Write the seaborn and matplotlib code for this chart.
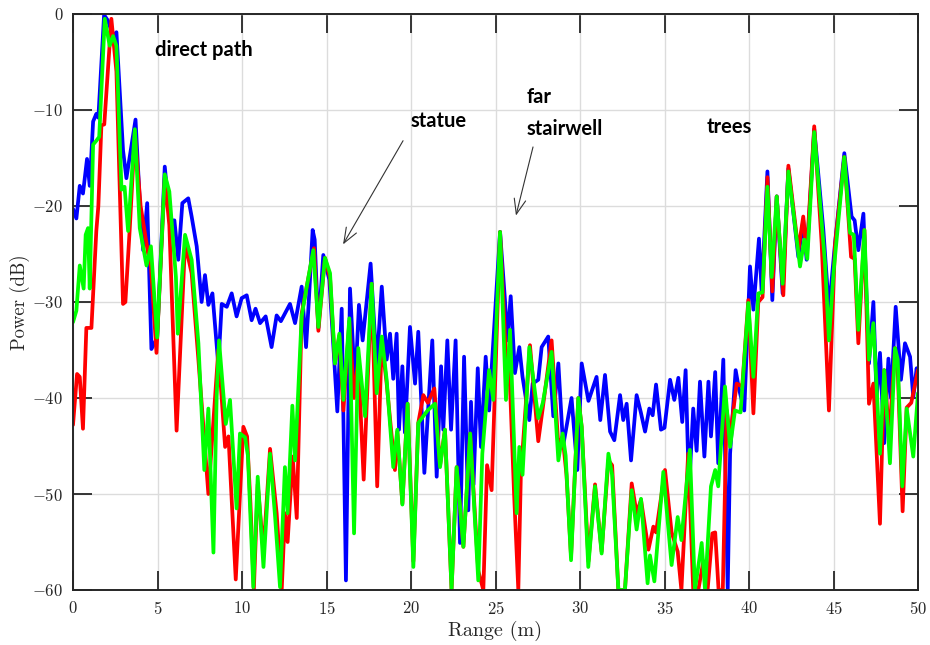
import numpy as np
import pandas as pd
import matplotlib
matplotlib.use("Agg")
import matplotlib.pyplot as plt
import seaborn as sns

# Range profile samples (m, dB) for the three measurement runs
blue_x = [0.0, 0.2, 0.4, 0.59, 0.83, 0.99, 1.19, 1.38, 1.5, 1.84, 2.07, 2.37, 2.57, 2.96, 3.16, 3.3, 3.7,
          3.95, 4.15, 4.39, 4.64, 4.98, 5.43, 5.73, 6.0, 6.23, 6.47, 6.82, 7.02, 7.32, 7.61, 7.81, 8.01,
          8.25, 8.6, 8.8, 9.1, 9.39, 9.68, 9.98, 10.28, 10.57, 10.8, 11.07, 11.4, 11.75, 12.05, 12.3,
          12.54, 12.84, 13.14, 13.53, 13.79, 13.95, 14.18, 14.3, 14.52, 14.81, 15.17, 15.64, 15.9, 16.15,
          16.39, 16.69, 16.92, 17.14, 17.61, 17.97, 18.27, 18.56, 18.76, 18.95, 19.15, 19.29, 19.49,
          19.64, 19.94, 20.24, 20.43, 20.79, 21.26, 21.52, 21.78, 21.91, 22.15, 22.37, 22.64, 22.9,
          23.14, 23.39, 23.55, 23.7, 23.95, 24.14, 24.42, 24.62, 25.27, 25.56, 25.7, 25.9, 26.15, 26.41,
          26.6, 27.0, 27.2, 27.53, 27.73, 28.12, 28.42, 28.72, 29.0, 29.5, 29.84, 30.1, 30.5, 30.98,
          31.2, 31.48, 31.78, 32.03, 32.37, 32.56, 32.76, 33.02, 33.35, 33.6, 33.85, 34.1, 34.3, 34.5,
          34.79, 35.0, 35.33, 35.58, 35.82, 36.05, 36.25, 36.45, 36.7, 36.9, 37.1, 37.36, 37.6, 37.75,
          38.0, 38.18, 38.48, 38.74, 38.88, 39.21, 39.4, 39.72, 40.06, 40.26, 40.59, 40.75, 41.09,
          41.38, 41.64, 41.99, 42.33, 42.92, 43.21, 43.41, 43.86, 44.4, 44.73, 45.09, 45.64, 46.07,
          46.25, 46.47, 46.77, 47.1, 47.36, 47.55, 47.75, 48.0, 48.25, 48.4, 48.68, 48.99, 49.23,
          49.53, 49.72, 49.92, 50.0]
blue_db = [-20.3, -21.3, -17.9, -18.7, -15.1, -17.9, -11.2, -10.4, -10.8, -0.1, -0.7, -2.3, -1.9, -14.2,
           -17.1, -15.5, -11.0, -19.5, -24.6, -19.7, -34.9, -33.7, -15.9, -21.5, -21.5, -25.6, -19.7,
           -19.2, -21.1, -24.2, -30.0, -27.2, -30.3, -29.1, -36.6, -30.2, -30.5, -29.1, -31.5, -29.6,
           -29.3, -31.9, -30.7, -32.2, -31.5, -34.7, -31.4, -32.0, -31.2, -30.2, -32.2, -28.4, -34.7,
           -30.0, -22.5, -23.5, -32.7, -25.1, -27.7, -41.4, -30.7, -59.0, -28.6, -38.8, -30.3, -34.0,
           -26.0, -36.7, -28.4, -36.0, -33.3, -38.0, -33.3, -43.3, -36.7, -43.6, -32.6, -38.5, -33.1,
           -47.8, -34.0, -48.2, -36.7, -43.3, -34.0, -43.3, -34.0, -55.1, -35.7, -51.7, -40.4, -49.0,
           -36.9, -45.1, -35.7, -41.3, -22.7, -29.8, -34.0, -29.4, -37.4, -34.7, -37.8, -42.3, -38.5,
           -38.1, -34.7, -33.6, -41.9, -36.4, -45.0, -40.0, -47.5, -36.4, -40.3, -37.8, -42.3, -37.6,
           -43.5, -44.4, -39.7, -42.3, -40.6, -46.5, -39.7, -41.5, -43.5, -41.1, -41.8, -38.6, -43.3,
           -43.1, -38.1, -40.2, -37.9, -42.5, -37.1, -49.6, -41.1, -45.5, -38.3, -46.1, -38.3, -44.0,
           -37.3, -46.8, -36.0, -60.0, -45.8, -37.1, -39.0, -41.3, -26.3, -30.8, -23.4, -29.0, -16.4,
           -29.8, -19.0, -29.1, -16.1, -25.3, -21.5, -25.6, -12.0, -22.5, -30.8, -23.9, -14.5, -21.1,
           -21.5, -24.6, -20.8, -36.4, -30.0, -40.0, -35.3, -44.7, -35.9, -40.0, -30.5, -38.1, -34.3,
           -35.7, -39.9, -36.9, -38.0]

red_x = [0.0, 0.24, 0.4, 0.59, 0.79, 1.09, 1.38, 1.5, 1.68, 1.85, 2.27, 2.57, 2.96, 3.1, 3.36, 3.66,
         4.0, 4.45, 4.6, 4.94, 5.43, 5.7, 6.13, 6.63, 7.02, 7.42, 8.01, 8.6, 9.0, 9.2, 9.63, 10.08, 10.3,
         10.5, 10.7, 10.93, 11.27, 11.66, 12.05, 12.35, 12.54, 12.7, 13.0, 13.24, 13.53, 13.83, 14.26,
         14.52, 14.91, 15.21, 15.5, 15.76, 16.0, 16.35, 16.63, 16.88, 17.2, 17.67, 18.0, 18.27, 18.56,
         19.05, 19.19, 19.49, 19.8, 20.14, 20.43, 20.73, 21.0, 21.38, 21.72, 22.01, 22.4, 22.7, 23.1,
         23.5, 23.98, 24.28, 24.5, 24.77, 25.27, 25.6, 25.86, 26.1, 26.35, 26.5, 27.04, 27.53, 27.8,
         28.32, 28.72, 28.97, 29.2, 29.47, 29.9, 30.1, 30.5, 30.89, 31.28, 31.68, 31.9, 32.27, 32.66,
         33.06, 33.35, 33.61, 34.05, 34.34, 34.5, 35.03, 35.42, 35.78, 36.0, 36.4, 36.7, 37.0, 37.3,
         37.55, 37.83, 38.0, 38.2, 38.45, 38.68, 38.88, 39.27, 39.6, 39.96, 40.26, 40.55, 40.8, 41.09,
         41.38, 41.64, 42.03, 42.33, 42.92, 43.21, 43.41, 43.86, 44.3, 44.73, 45.09, 45.64, 46.04,
         46.25, 46.47, 46.83, 47.1, 47.36, 47.75, 48.0, 48.3, 48.64, 48.8, 49.09, 49.33, 49.6, 50.0]
red_db = [-42.8, -37.5, -37.8, -43.2, -32.7, -32.7, -22.6, -20.0, -11.6, -11.5, -0.5, -6.0, -30.2, -30.0,
          -22.3, -12.4, -20.0, -25.0, -26.0, -35.3, -17.1, -22.0, -43.4, -23.9, -27.0, -36.0, -50.0,
          -35.0, -45.1, -44.0, -58.9, -43.0, -44.0, -51.0, -60.0, -49.0, -56.0, -45.3, -52.0, -60.0,
          -52.0, -55.0, -46.1, -52.5, -31.2, -28.4, -24.4, -33.0, -25.4, -27.5, -36.4, -33.5, -41.3,
          -32.0, -40.0, -36.0, -48.5, -28.1, -49.2, -34.0, -38.5, -47.5, -43.5, -51.0, -40.6, -57.0,
          -42.6, -39.7, -40.5, -39.0, -47.0, -43.3, -60.0, -47.2, -55.5, -43.7, -58.0, -60.0, -47.0,
          -49.6, -22.7, -35.0, -38.8, -50.0, -60.0, -48.0, -34.5, -44.5, -41.0, -34.0, -45.0, -44.0,
          -48.0, -56.5, -40.0, -43.0, -57.0, -49.0, -56.0, -46.5, -47.0, -60.0, -60.0, -48.9, -52.0,
          -50.6, -55.8, -53.4, -54.0, -47.5, -54.0, -56.0, -60.0, -45.8, -60.0, -60.0, -57.0, -60.0,
          -54.1, -54.0, -60.0, -60.0, -41.3, -44.0, -38.5, -38.8, -29.8, -41.6, -30.0, -29.5, -17.0,
          -28.9, -19.0, -29.3, -15.8, -24.6, -21.1, -25.0, -11.7, -23.9, -41.3, -24.0, -14.9, -25.3,
          -25.5, -34.3, -22.5, -40.6, -38.5, -53.1, -37.1, -44.0, -34.8, -37.0, -51.8, -41.0, -40.5,
          -37.1]

green_x = [0.0, 0.2, 0.4, 0.63, 0.75, 0.89, 0.99, 1.19, 1.38, 1.55, 1.88, 2.17, 2.37, 2.57, 2.87, 3.05,
           3.26, 3.66, 3.95, 4.35, 4.61, 4.98, 5.43, 5.7, 6.09, 6.2, 6.63, 7.02, 7.42, 7.77, 8.01, 8.31,
           8.5, 8.64, 9.04, 9.29, 9.68, 9.88, 10.18, 10.35, 10.67, 10.93, 11.27, 11.66, 11.96, 12.25,
           12.54, 12.7, 12.98, 13.14, 13.53, 13.83, 14.22, 14.52, 14.91, 15.21, 15.5, 15.76, 16.0,
           16.35, 16.63, 16.88, 17.28, 17.67, 17.97, 18.27, 18.56, 18.95, 19.19, 19.49, 19.8, 20.14,
           20.43, 20.98, 21.42, 21.72, 22.01, 22.4, 22.7, 23.1, 23.5, 23.98, 24.22, 24.62, 24.87, 25.27,
           25.62, 25.86, 26.25, 26.41, 26.6, 27.0, 27.53, 27.8, 28.32, 28.72, 28.97, 29.15, 29.47, 29.9,
           30.1, 30.49, 30.89, 31.28, 31.68, 31.9, 32.27, 32.66, 33.06, 33.35, 33.61, 34.0, 34.14, 34.4,
           34.93, 35.42, 35.78, 36.0, 36.5, 36.8, 37.2, 37.4, 37.75, 38.0, 38.18, 38.58, 38.88, 39.17,
           39.5, 39.96, 40.26, 40.55, 40.8, 41.09, 41.34, 41.64, 41.99, 42.33, 43.02, 43.27, 43.45,
           43.86, 44.5, 44.73, 45.0, 45.64, 45.98, 46.2, 46.47, 46.83, 47.1, 47.36, 47.75, 48.0, 48.34,
           48.64, 48.8, 49.07, 49.33, 49.72, 50.0]
green_db = [-32.1, -30.9, -26.2, -28.6, -23.0, -22.3, -28.6, -13.6, -13.2, -12.8, -0.5, -3.3, -2.3, -3.3,
            -18.3, -18.0, -22.6, -12.0, -22.3, -26.2, -24.2, -33.7, -16.7, -18.5, -27.4, -33.3, -23.0,
            -25.6, -34.3, -47.5, -41.1, -56.1, -39.9, -34.0, -42.7, -40.2, -51.5, -43.7, -44.1, -46.0,
            -59.7, -48.2, -57.6, -45.8, -52.4, -59.7, -47.2, -52.0, -40.8, -46.5, -31.5, -28.4, -24.6,
            -32.6, -25.4, -27.0, -36.4, -33.3, -40.2, -31.7, -54.1, -34.8, -41.9, -28.1, -39.5, -33.6,
            -38.1, -47.2, -43.3, -51.1, -40.6, -57.6, -42.6, -41.3, -40.6, -47.2, -43.3, -60.0, -47.2,
            -55.5, -43.7, -59.0, -45.8, -37.1, -40.2, -22.7, -40.2, -32.9, -52.0, -45.1, -48.0, -34.7,
            -42.1, -40.5, -35.2, -46.5, -43.7, -46.0, -56.9, -40.0, -43.0, -57.6, -49.2, -56.2, -45.8,
            -48.0, -60.0, -60.0, -49.6, -53.7, -50.5, -59.3, -56.4, -59.1, -47.7, -57.4, -52.4, -54.8,
            -45.4, -60.0, -55.1, -60.0, -49.2, -47.5, -49.2, -38.8, -45.1, -41.3, -41.5, -30.1, -37.8,
            -29.1, -29.0, -18.0, -27.4, -19.0, -28.1, -16.4, -26.3, -23.5, -25.5, -12.3, -26.0, -34.0,
            -27.0, -14.9, -22.8, -23.0, -32.9, -22.5, -36.0, -32.2, -45.8, -37.1, -46.8, -34.8, -36.0,
            -49.2, -41.1, -46.1, -39.5]

x_ticks = [0, 5, 10, 15, 20, 25, 30, 35, 40, 45, 50]
y_ticks = [-60, -50, -40, -30, -20, -10, 0]

labels = ["direct path", "statue", "far", "stairwell", "trees"]
label_pos = [(4.85, -3.75), (20.0, -11.1), (26.86, -8.6), (26.86, -12.0), (37.5, -11.8)]
arrows = [((19.53, -13.2), (15.98, -24.0)), ((27.22, -13.85), (26.21, -21.0))]

sns.set_theme(style="white")
plt.rcParams["font.family"] = ["cmr10", "DejaVu Serif"]
plt.rcParams["mathtext.fontset"] = "cm"
plt.rcParams["axes.formatter.use_mathtext"] = True

fig = plt.figure(figsize=(9.3, 6.45), dpi=100)
ax = fig.add_axes([73 / 930, 1 - 590 / 645, 845 / 930, 576 / 645])

series = [(blue_x, blue_db, "#0000ff"), (red_x, red_db, "#ff0000"), (green_x, green_db, "#00ff00")]
for xs, ys, col in series:
    df = pd.DataFrame({"range": xs, "power": ys})
    sns.lineplot(data=df, x="range", y="power", color=col, linewidth=2.7,
                 errorbar=None, ax=ax, sort=False,
                 solid_joinstyle="round", solid_capstyle="round")

ax.set_xlim(0, 50)
ax.set_ylim(-60, 0)
ax.set_xticks(x_ticks)
ax.set_yticks(y_ticks)
ax.grid(True, color="#dcdcdc", linewidth=1.0)
ax.set_axisbelow(True)
for s in ax.spines.values():
    s.set_color("#262626")
    s.set_linewidth(1.4)
    s.set_visible(True)
ax.tick_params(direction="in", length=14, width=1.3, colors="#262626",
               top=True, right=True, bottom=True, left=True, labelsize=12, pad=7)
ax.set_xlabel("Range (m)", fontsize=14.5, color="#262626", labelpad=3)
ax.set_ylabel("Power (dB)", fontsize=13.5, color="#262626", labelpad=2)

for txt, (tx, ty) in zip(labels, label_pos):
    ax.text(tx, ty, txt, fontsize=14.5, fontweight="bold", family=["Lato", "DejaVu Sans"],
            color="black", ha="left", va="center")
for (sx, sy), (ex, ey) in arrows:
    ax.annotate("", xy=(ex, ey), xytext=(sx, sy),
                arrowprops=dict(arrowstyle="->,head_length=0.9,head_width=0.35",
                                color="#333333", lw=0.8, shrinkA=0, shrinkB=0))

fig.savefig("out.png", dpi=100, facecolor="white")
